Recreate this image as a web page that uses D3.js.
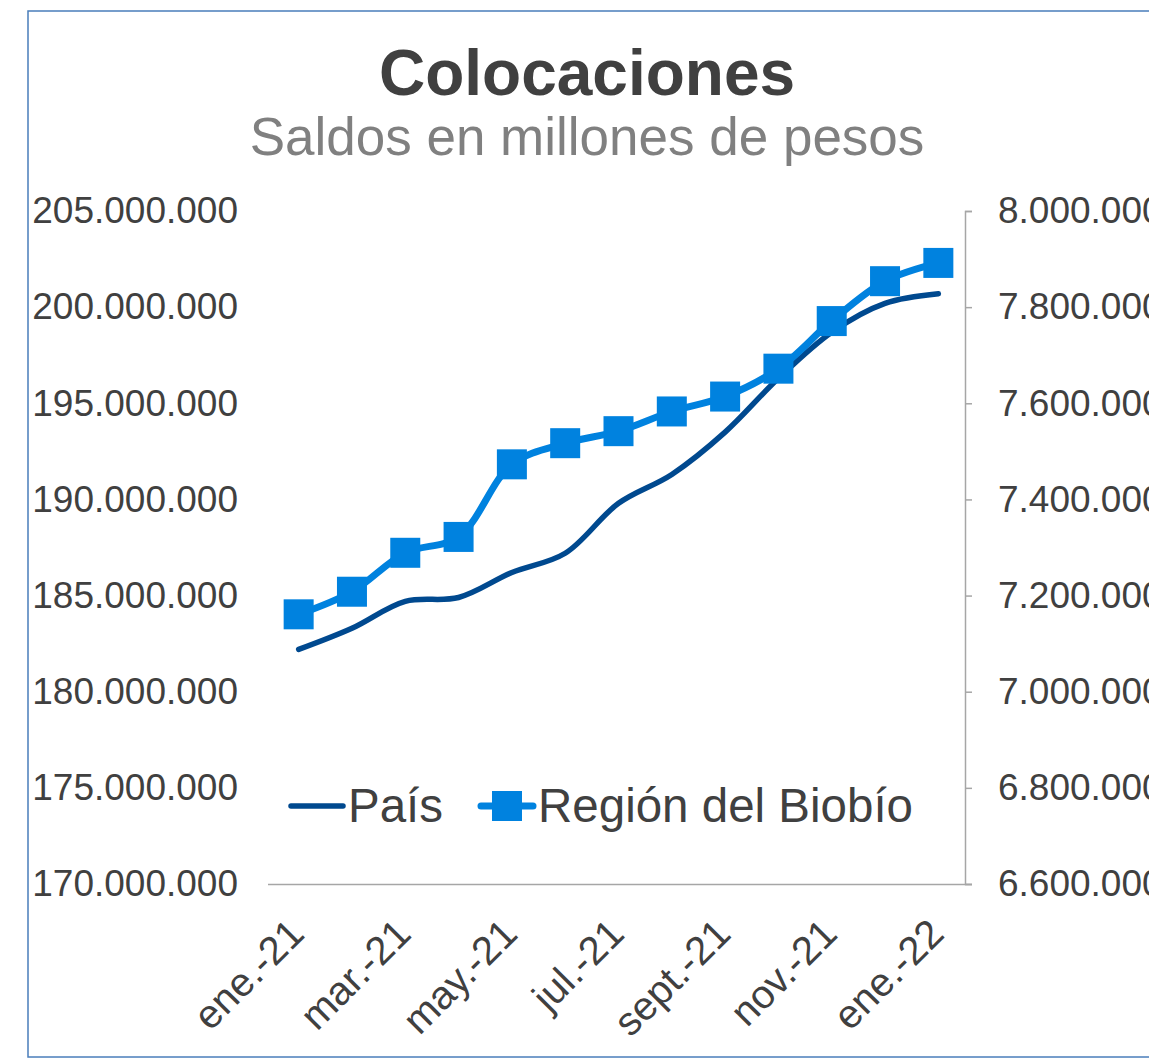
<!DOCTYPE html>
<html>
<head>
<meta charset="utf-8">
<script src="https://cdn.jsdelivr.net/npm/d3@7"></script>
<style>
	body { margin: 0; background: #fff; }
	svg { display: block; font-family: "Liberation Sans", Arial, sans-serif; }
</style>
</head>
<body>
<div id="container"></div>
<script>
// 1. Data
const months = ["ene.-21", "feb.-21", "mar.-21", "abr.-21", "may.-21", "jun.-21", "jul.-21",
	"ago.-21", "sept.-21", "oct.-21", "nov.-21", "dic.-21", "ene.-22"]
const labelledMonths = ["ene.-21", "mar.-21", "may.-21", "jul.-21", "sept.-21", "nov.-21", "ene.-22"]
const pais = [182200000, 183300000, 184700000, 184900000, 186200000, 187200000, 189800000,
	191300000, 193500000, 196300000, 198700000, 200200000, 200700000]
const biobio = [7161000, 7208000, 7289000, 7322000, 7473000, 7517000, 7542000,
	7583000, 7614000, 7672000, 7771000, 7854000, 7892000]
const leftTicks = [170000000, 175000000, 180000000, 185000000, 190000000, 195000000, 200000000, 205000000]
const rightTicks = [6600000, 6800000, 7000000, 7200000, 7400000, 7600000, 7800000, 8000000]
const seriesNames = ["País", "Región del Biobío"]

// 2. Dimensions
const width = 1149
const height = 1059
const margin = { top: 211, right: 184, bottom: 175, left: 272 }
const plotRight = width - margin.right
const plotBottom = height - margin.bottom

const colors = { pais: "#00498F", biobio: "#0082DF", text: "#404040", sub: "#808080", axis: "#A6A6A6" }

// 3. Canvas
const svg = d3.select("#container")
	.append("svg")
	.attr("width", width)
	.attr("height", height)

// chart border
svg.append("rect")
	.attr("x", 28)
	.attr("y", 11)
	.attr("width", width + 10)
	.attr("height", 1046)
	.attr("fill", "none")
	.attr("stroke", "#4A7EBB")
	.attr("stroke-width", 1.5)

// 4. Scales
const x = d3.scalePoint()
	.domain(months)
	.range([margin.left, plotRight])
	.padding(0.5)

const yLeft = d3.scaleLinear()
	.domain([170000000, 205000000])
	.range([plotBottom, margin.top])

const yRight = d3.scaleLinear()
	.domain([6600000, 8000000])
	.range([plotBottom, margin.top])

const locale = d3.formatLocale({ decimal: ",", thousands: ".", grouping: [3], currency: ["$", ""] })
const fmt = locale.format(",.0f")

// 5. Axes
const leftAxis = svg.append("g")
	.attr("transform", `translate(${margin.left},0)`)
	.call(d3.axisLeft(yLeft).tickValues(leftTicks).tickFormat(fmt).tickSize(0).tickPadding(34))
leftAxis.select(".domain").remove()

const rightAxis = svg.append("g")
	.attr("transform", `translate(${plotRight},0)`)
	.call(d3.axisRight(yRight).tickValues(rightTicks).tickFormat(fmt).tickSize(7).tickPadding(26))

const bottomAxis = svg.append("g")
	.attr("transform", `translate(0,${plotBottom})`)
	.call(d3.axisBottom(x).tickValues(labelledMonths).tickSize(0))
bottomAxis.select(".domain")
	.attr("d", `M${margin.left - 4},0.5H${plotRight + 7}`)

svg.selectAll(".domain, .tick line").attr("stroke", colors.axis).attr("stroke-width", 1.5)
svg.selectAll(".tick text")
	.attr("fill", colors.text)
	.style("font-size", "37px")
	.style("font-family", "\"Liberation Sans\", Arial, sans-serif")

bottomAxis.selectAll("text")
	.attr("text-anchor", "end")
	.attr("dy", 0)
	.attr("transform", "translate(5,50) rotate(-45)")
	.style("font-size", "40px")

// 6. Lines
const paisLine = d3.line()
	.x((d, i) => x(months[i]))
	.y(d => yLeft(d))
	.curve(d3.curveCatmullRom.alpha(0.5))

const bioLine = d3.line()
	.x((d, i) => x(months[i]))
	.y(d => yRight(d))
	.curve(d3.curveCatmullRom.alpha(0.5))

svg.append("path")
	.datum(pais)
	.attr("d", paisLine)
	.attr("fill", "none")
	.attr("stroke", colors.pais)
	.attr("stroke-width", 5.5)
	.attr("stroke-linecap", "round")

svg.append("path")
	.datum(biobio)
	.attr("d", bioLine)
	.attr("fill", "none")
	.attr("stroke", colors.biobio)
	.attr("stroke-width", 7)
	.attr("stroke-linecap", "round")

const sq = 30
svg.selectAll(".marker")
	.data(biobio)
	.join("rect")
	.attr("class", "marker")
	.attr("x", (d, i) => x(months[i]) - sq / 2)
	.attr("y", d => yRight(d) - sq / 2)
	.attr("width", sq)
	.attr("height", sq)
	.attr("fill", colors.biobio)

// 7. Title, subtitle, legend
svg.append("text")
	.attr("x", 587)
	.attr("y", 95)
	.attr("text-anchor", "middle")
	.attr("fill", colors.text)
	.style("font-size", "64px")
	.style("font-weight", "bold")
	.text("Colocaciones")

svg.append("text")
	.attr("x", 587)
	.attr("y", 155)
	.attr("text-anchor", "middle")
	.attr("fill", colors.sub)
	.style("font-size", "53px")
	.text("Saldos en millones de pesos")

const legendY = 806
const legend = svg.append("g")

legend.append("line")
	.attr("x1", 291).attr("x2", 343)
	.attr("y1", legendY).attr("y2", legendY)
	.attr("stroke", colors.pais)
	.attr("stroke-width", 5.5)
	.attr("stroke-linecap", "round")
legend.append("text")
	.attr("x", 348).attr("y", legendY + 16)
	.attr("fill", colors.text)
	.style("font-size", "47.5px")
	.text(seriesNames[0])

legend.append("line")
	.attr("x1", 481).attr("x2", 533)
	.attr("y1", legendY).attr("y2", legendY)
	.attr("stroke", colors.biobio)
	.attr("stroke-width", 7)
	.attr("stroke-linecap", "round")
legend.append("rect")
	.attr("x", 507 - sq / 2).attr("y", legendY - sq / 2)
	.attr("width", sq).attr("height", sq)
	.attr("fill", colors.biobio)
legend.append("text")
	.attr("x", 538).attr("y", legendY + 16)
	.attr("fill", colors.text)
	.style("font-size", "47.5px")
	.text(seriesNames[1])
</script>
</body>
</html>
